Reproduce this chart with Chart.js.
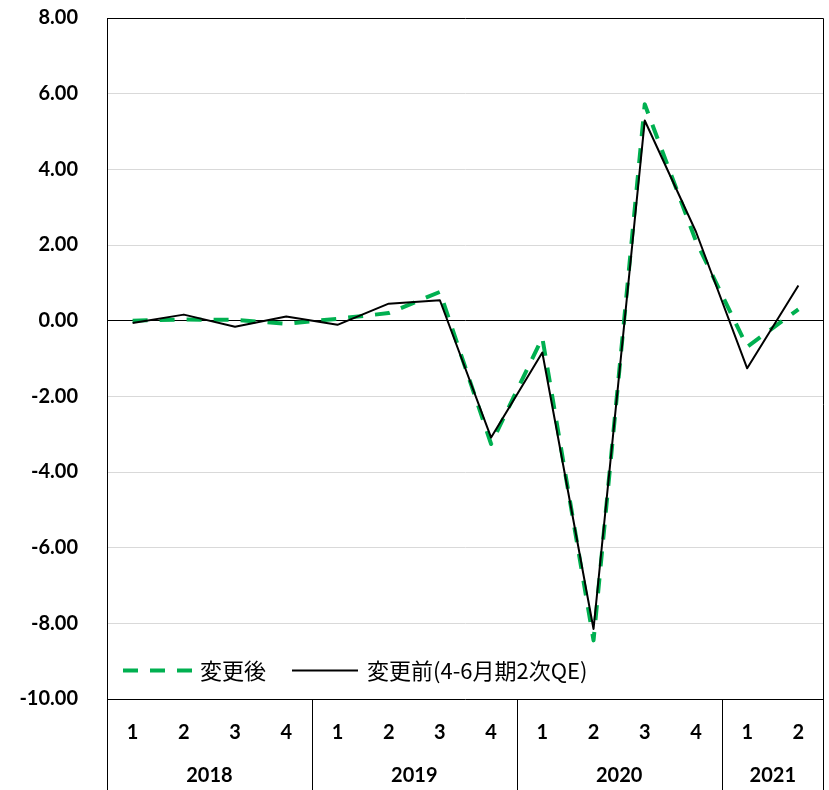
<!DOCTYPE html>
<html>
<head>
<meta charset="utf-8">
<script src="https://cdn.jsdelivr.net/npm/chart.js@4/dist/chart.umd.min.js"></script>
<style>
  html, body { margin: 0; padding: 0; background: #fff; }
  #wrap { width: 829px; height: 790px; }
</style>
</head>
<body>
<div id="wrap"><canvas id="myChart" width="829" height="790"></canvas></div>
<script>
// quarters, years and the two series
let quarters = ['1', '2', '3', '4', '1', '2', '3', '4', '1', '2', '3', '4', '1', '2']
let years = ['2018', '2019', '2020', '2021']
let year_counts = [4, 4, 4, 2]
let after_values = [0.0, 0.03, 0.02, -0.08, 0.05, 0.2, 0.76, -3.26, -0.45, -8.45, 5.72, 2.1, -0.69, 0.3]
let before_values = [-0.06, 0.16, -0.16, 0.11, -0.11, 0.45, 0.54, -3.09, -0.84, -8.15, 5.29, 2.35, -1.26, 0.93]
let series_names = ['変更後', '変更前(4-6月期2次QE)']

const green = '#00b050'
const tickFont = { family: 'Lato', size: 20, weight: 'bold' }
const cjkFont = '22px "Noto Sans CJK JP"'

// box round the plot, y labels, year row and dividers, legend inside the plot
const framePlugin = {
    id: 'frame',
    afterDraw(chart) {
        const ctx = chart.ctx
        const { left, right, top, bottom } = chart.chartArea
        const x = chart.scales.x
        const y = chart.scales.y
        const H = chart.height

        ctx.save()
        ctx.strokeStyle = '#000'
        ctx.lineWidth = 1
        ctx.beginPath()
        ctx.moveTo(left + 0.5, top + 0.5)
        ctx.lineTo(right - 0.5, top + 0.5)
        ctx.lineTo(right - 0.5, H)
        ctx.moveTo(left + 0.5, top)
        ctx.lineTo(left + 0.5, H)
        ctx.moveTo(left, bottom + 0.5)
        ctx.lineTo(right, bottom + 0.5)

        let idx = 0
        let centers = []
        year_counts.forEach((n, i) => {
            let first = x.getPixelForValue(idx)
            let last = x.getPixelForValue(idx + n - 1)
            centers.push((first + last) / 2)
            idx += n
            if (i < year_counts.length - 1) {
                let bx = Math.round((x.getPixelForValue(idx - 1) + x.getPixelForValue(idx)) / 2) + 0.5
                ctx.moveTo(bx, bottom)
                ctx.lineTo(bx, H)
            }
        })
        ctx.stroke()

        ctx.fillStyle = '#000'
        ctx.font = 'bold 20px Lato'
        ctx.textBaseline = 'middle'

        // y tick labels, right aligned
        ctx.textAlign = 'right'
        y.ticks.forEach(t => ctx.fillText(t.value.toFixed(2), left - 29, y.getPixelForValue(t.value)))

        ctx.textAlign = 'center'
        years.forEach((yr, i) => ctx.fillText(yr, centers[i], 776))

        // legend
        const ds = chart.data.datasets
        const ly = 670.5
        ctx.textAlign = 'left'
        ctx.font = cjkFont

        ctx.strokeStyle = ds[0].borderColor
        ctx.lineWidth = ds[0].borderWidth
        ctx.setLineDash(ds[0].borderDash)
        ctx.beginPath()
        ctx.moveTo(123, ly)
        ctx.lineTo(196, ly)
        ctx.stroke()
        ctx.fillText(ds[0].label, 200, ly)

        ctx.strokeStyle = ds[1].borderColor
        ctx.lineWidth = ds[1].borderWidth
        ctx.setLineDash([])
        ctx.beginPath()
        ctx.moveTo(292, ly)
        ctx.lineTo(358, ly)
        ctx.stroke()
        ctx.fillText(ds[1].label, 367, ly)
        ctx.restore()
    }
}

const ctx = document.getElementById('myChart')

new Chart(ctx, {
    type: 'line',
    data: {
        labels: quarters,
        datasets: [
            {
                label: series_names[0],
                data: after_values,
                borderColor: green,
                borderWidth: 4,
                borderDash: [15, 12],
                borderJoinStyle: 'round',
                pointRadius: 0,
                tension: 0,
                order: 1
            },
            {
                label: series_names[1],
                data: before_values,
                borderColor: '#000',
                borderWidth: 2,
                borderJoinStyle: 'round',
                pointRadius: 0,
                tension: 0,
                order: 0
            }
        ]
    },
    options: {
        responsive: false,
        animation: false,
        layout: { padding: { top: 18, right: 5, left: 0, bottom: 0 } },
        plugins: {
            legend: { display: false },
            tooltip: { enabled: false }
        },
        scales: {
            x: {
                type: 'category',
                offset: true,
                grid: { display: false, drawTicks: false },
                border: { display: false },
                ticks: { color: '#000', font: tickFont, padding: 22, maxRotation: 0, autoSkip: false },
                afterFit: (scale) => { scale.height = 91 }
            },
            y: {
                min: -10,
                max: 8,
                grid: {
                    drawTicks: false,
                    color: (c) => c.tick && c.tick.value === 0 ? '#000' : '#d9d9d9',
                    lineWidth: 1
                },
                border: { display: false },
                ticks: { stepSize: 2, display: false },
                afterFit: (scale) => { scale.width = 107 }
            }
        }
    },
    plugins: [framePlugin]
})
</script>
</body>
</html>
